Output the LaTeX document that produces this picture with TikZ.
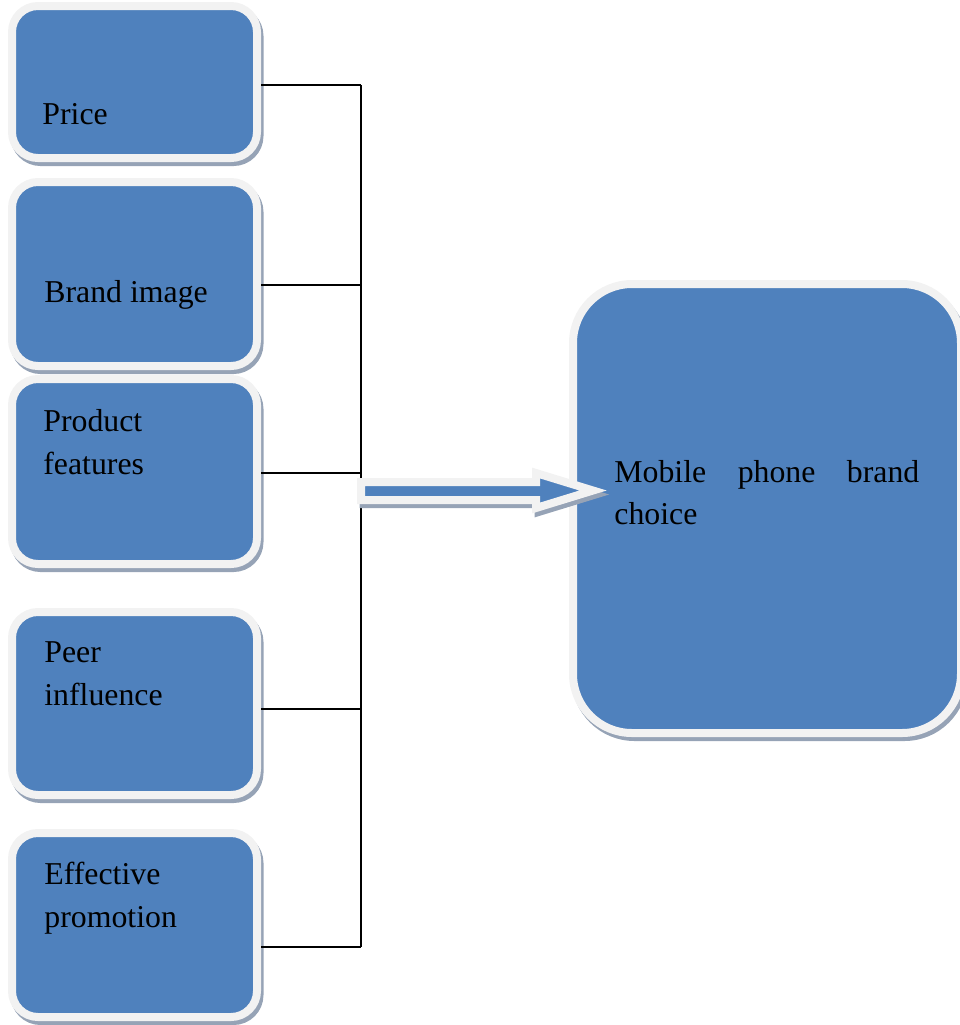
\documentclass[tikz,border=0pt]{standalone}
\usepackage{fontspec}
\setmainfont{Liberation Serif}
\usetikzlibrary{shadows}
\definecolor{box_blue}{RGB}{79,129,189}
\definecolor{box_rim}{RGB}{242,242,242}
\definecolor{box_shade}{RGB}{150,163,182}

\begin{document}
\begin{tikzpicture}[x=0.5pt,y=-0.5pt]
    \tikzstyle{shade}=[general shadow={fill=box_shade, draw=box_shade, line width=4pt, shadow xshift=1.25pt, shadow yshift=-2pt}]
    \tikzstyle{factor}=[style=shade, draw=box_rim, line width=4pt, fill=box_blue, rectangle, rounded corners=13pt, minimum width=122.5pt, inner sep=0pt]
    \tikzstyle{goal}=[style=factor, rounded corners=29.5pt, minimum width=194pt, minimum height=224.5pt]
    \tikzstyle{txt}=[anchor=base west, inner sep=0pt, align=left, text=black, font=\fontsize{15.9pt}{21.25pt}\selectfont]
    \tikzstyle{link}=[draw=black, line width=0.75pt]
    \tikzstyle{bigarrow}=[style=shade, draw=box_rim, line width=4pt, fill=box_blue, line join=miter]

    \useasboundingbox (0,0) rectangle (960,1025);

    \node[factor, minimum height=76pt]   (price)    at (134.5,82)    {};
    \node[factor, minimum height=92pt]   (brand)    at (134.5,274)   {};
    \node[factor, minimum height=92.5pt] (features) at (134.5,471.5) {};
    \node[factor, minimum height=91.5pt] (peer)     at (134.5,703.5) {};
    \node[factor, minimum height=92pt]   (promo)    at (134.5,925)   {};
    \node[goal] (choice) at (767,508.5) {};

    % two-line labels sit on the baseline of their last line
    \node[txt] (t_price)    at (42,124) {Price};
    \node[txt] (t_brand)    at (44,302) {Brand image};
    \node[txt] (t_features) at (43,474) {Product\\features};
    \node[txt] (t_peer)     at (44,705) {Peer\\influence};
    \node[txt] (t_promo)    at (44,927) {Effective\\promotion};

    \coordinate (j_price)    at (361,85);
    \coordinate (j_brand)    at (361,285);
    \coordinate (j_features) at (361,473);
    \coordinate (j_peer)     at (361,709);
    \coordinate (j_promo)    at (361,947);
    \path[link]
     (price.east |- j_price)       edge (j_price)
     (brand.east |- j_brand)       edge (j_brand)
     (features.east |- j_features) edge (j_features)
     (peer.east |- j_peer)         edge (j_peer)
     (promo.east |- j_promo)       edge (j_promo)
     (j_price) edge (j_promo)
     ;

    \coordinate (a_start) at (361,482);
    \coordinate (a_tip)   at (593,490.5);
    \path[bigarrow] (a_start) -- ++(175,0) -- ++(0,-9) -- (a_tip) -- ++(-57,17.5) -- ++(0,-8) -- ++(-175,0) -- cycle;

    \node[txt, text width=152.5pt] (t_choice) at (614,482) {Mobile\hfill phone\hfill brand\\choice};
\end{tikzpicture}
\end{document}
